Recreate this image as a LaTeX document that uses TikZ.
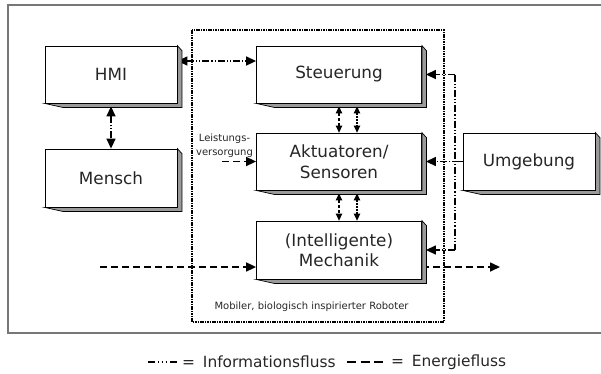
\documentclass[tikz,border=0pt]{standalone}
\usepackage{fontspec}
\setmainfont{DejaVu Sans}
\usetikzlibrary{arrows.meta}
\definecolor{shadowgray}{HTML}{9A9A9A}
\definecolor{framegray}{HTML}{777777}
\definecolor{txt}{HTML}{262626}
\newcommand\boxshadow[1]{%
  \draw[line width=0.7pt, fill=shadowgray, line join=miter]
    (#1.north east) -- ++(4.5,5) -- ([shift={(4.5,4)}]#1.south east)
    -- ([shift={(18,4)}]#1.south west) -- (#1.south west) -- (#1.south east) -- cycle;}
\begin{document}
\begin{tikzpicture}[x=1pt,y=-1pt,
  box/.style={draw=black, line width=0.8pt, fill=white, text=txt, inner sep=0pt,
    font=\fontsize{16.8}{20.5}\selectfont, align=center},
  smallbox/.style={box, minimum width=132pt, minimum height=57pt},
  widebox/.style={box, minimum width=165pt, minimum height=57pt},
  info/.style={line width=1.4pt, dash pattern=on 7pt off 2pt on 1.2pt off 2pt on 1.2pt off 2pt},
  energy/.style={line width=1.6pt, dash pattern=on 7pt off 4pt},
  bigtip/.style={-{Triangle[length=10pt,width=9pt]}},
  bothtip/.style={{Triangle[length=10pt,width=9pt]}-{Triangle[length=10pt,width=9pt]}},
  smalltip/.style={{Triangle[length=7pt,width=6.5pt]}-{Triangle[length=7pt,width=6.5pt]}},
  shortinfo/.style={line width=1.2pt, dash pattern=on 1.5pt off 1.5pt},
  shortenergy/.style={line width=1.2pt, dash pattern=on 3pt off 2pt},
  lbl/.style={text=txt, inner sep=0pt}
]
\useasboundingbox (0,0) rectangle (601,373);

% outer frame
\draw[framegray, line width=1.5pt] (601,5) -- (8,5) -- (8,333) -- (601,333);

% robot frame
\draw[line width=2.2pt, dash pattern=on 1.6pt off 0.8pt] (192,30) rectangle (444,322);
\node[lbl, font=\fontsize{10}{12}\selectfont] (robtxt) at (311.5,307) {Mobiler, biologisch inspirierter Roboter};

% boxes
\node[smallbox] (hmi) at (111,74.5) {HMI};
\node[smallbox, minimum height=58pt] (mensch) at (111,178) {Mensch};
\node[widebox] (steu) at (339,74.5) {Steuerung};
\node[widebox] (akt) at (339,161.5) {Aktuatoren/\\Sensoren};
\node[widebox, minimum height=58pt] (mech) at (339,250) {(Intelligente)\\Mechanik};
\node[smallbox] (umg) at (529,161.5) {Umgebung};

% coordinates
\coordinate (lv) at (222,161.5);
\coordinate (ein) at (100,267);
\coordinate (eoutstart) at (421.5,267);
\coordinate (eout) at (500,267);
\coordinate (vt) at (455,74.5);
\coordinate (vb) at (455,250);

% connectors
\draw[info, bothtip] ([yshift=13.5pt]hmi.east) -- ([yshift=13.5pt]steu.west);
\draw[info, bothtip] ([yshift=-3pt]hmi.south) -- (mensch.north);
\draw[shortenergy, smalltip] ([yshift=-3pt]steu.south) -- (akt.north);
\draw[shortinfo, smalltip] ([xshift=18pt,yshift=-3pt]steu.south) -- ([xshift=18pt]akt.north);
\draw[shortenergy, smalltip] ([yshift=-3pt]akt.south) -- (mech.north);
\draw[shortinfo, smalltip] ([xshift=18pt,yshift=-3pt]akt.south) -- ([xshift=18pt]mech.north);
\draw[energy, bigtip] (lv) -- (akt.west);
\node[lbl, font=\fontsize{10}{14}\selectfont, align=center] (lvtext) at (224.5,146) {Leistungs-\\versorgung};
\draw[info] (vt) -- (vb);
\draw[info, bigtip] (umg.west) -- ([xshift=4pt]akt.east);
\draw[info, bigtip] (vt) -- ([xshift=4pt]steu.east);
\draw[info, bigtip] (vb) -- ([xshift=4pt]mech.east);
\draw[energy, bigtip] (ein) -- (mech.west |- ein);
\draw[energy, bigtip] (eoutstart) -- (eout);

% shadows
\boxshadow{hmi}
\boxshadow{mensch}
\boxshadow{steu}
\boxshadow{akt}
\boxshadow{mech}
\boxshadow{umg}

% legend
\coordinate (l1a) at (148,362);
\coordinate (l1b) at (177,362);
\coordinate (l2a) at (347,362);
\coordinate (l2b) at (383,362);
\draw[line width=1.8pt, dash pattern=on 7pt off 2.5pt on 1.5pt off 2.5pt on 1.5pt off 2.5pt on 1.5pt off 2.5pt] (l1a) -- (l1b);
\draw[line width=1.8pt, dash pattern=on 9pt off 4.5pt] (l2a) -- (l2b);
\node[lbl, anchor=west, font=\fontsize{15.4}{18}\selectfont] (leg1) at (182,362) {=\hspace{3pt} Informationsfluss};
\node[lbl, anchor=west, font=\fontsize{15.4}{18}\selectfont] (leg2) at (391,362) {=\hspace{3pt} Energiefluss};
\end{tikzpicture}
\end{document}
